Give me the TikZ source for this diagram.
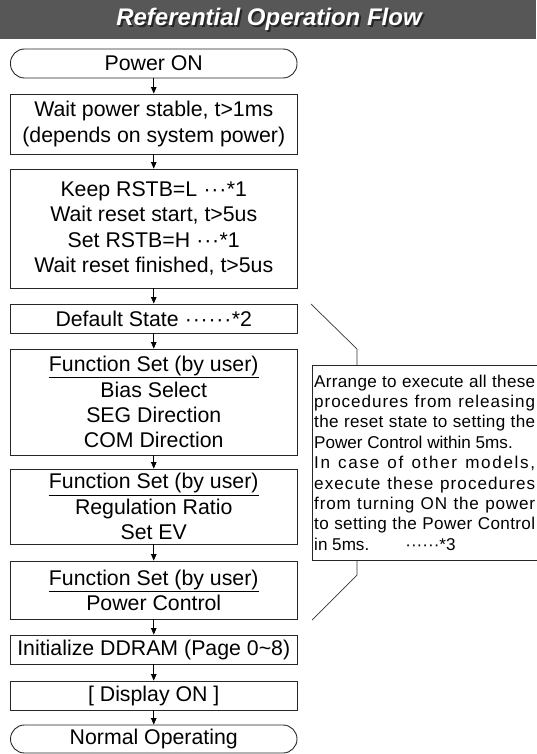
\documentclass[tikz,border=0pt]{standalone}
\usepackage{fontspec}
\setmainfont{Liberation Sans}
\usetikzlibrary{arrows.meta}

% spread the characters of one line evenly over a given width
\ExplSyntaxOn
\cs_new_protected:Npn \flow_spread_line:nn #1#2
  { \hbox_to_wd:nn {#1} { \str_map_inline:nn {#2} { ##1 \hfil } \hfilneg } }
\NewDocumentCommand \spreadline { m m } { \flow_spread_line:nn {#1} {#2} }
\ExplSyntaxOff

\definecolor{bandgray}{RGB}{87,87,87}
\newcommand{\flowfont}{\fontsize{21.3}{25.2}\selectfont}
\newcommand{\md}{\makebox[0.37em]{·}}
% white heading with a dark drop shadow
\newcommand{\shadowed}[1]{\makebox[0pt][l]{\hspace{2pt}\raisebox{-2pt}{\textcolor{black!85}{#1}}}\textcolor{white}{#1}}

\tikzset{
  x=1pt, y=-1pt,
  stepbox/.style={draw=black!85, line width=0.9pt, minimum width=286.5pt,
                  inner sep=0pt, align=center, font=\flowfont},
  termbox/.style={stepbox, rounded corners=14pt},
  flowarrow/.style={-{Triangle[length=6.5pt,width=5.5pt]}, line width=0.8pt, black},
  bracket/.style={line width=0.7pt, black!80},
}

\begin{document}
\begin{tikzpicture}
\useasboundingbox (0,0) rectangle (536,754);

% title band
\fill[bandgray] (0,0) rectangle (536,39.5);
\node[anchor=base, inner sep=0, font=\fontsize{24}{28}\selectfont\bfseries\itshape]
  (title) at (269,26) {\shadowed{Referential Operation Flow}};

% flow steps
\node[termbox, minimum height=29pt] (pon) at (153.75,63.5) {Power ON};
\node[stepbox, minimum height=60pt] (wait) at (153.75,124)
  {Wait power stable, t>1ms\\(depends on system power)};
\node[stepbox, minimum height=119pt] (reset) at (153.75,228.5)
  {Keep RSTB=L \md\md\md*1\\Wait reset start, t>5us\\Set RSTB=H \md\md\md*1\\Wait reset finished, t>5us};
\node[stepbox, minimum height=29pt] (default) at (153.75,318.5)
  {Default State \md\md\md\md\md\md*2};
\node[stepbox, minimum height=106pt] (fs1) at (153.75,402)
  {\underline{Function Set (by user)}\\Bias Select\\SEG Direction\\COM Direction};
\node[stepbox, minimum height=75pt] (fs2) at (153.75,506.5)
  {\underline{Function Set (by user)}\\Regulation Ratio\\Set EV};
\node[stepbox, minimum height=58pt] (fs3) at (153.75,590)
  {\underline{Function Set (by user)}\\Power Control};
\node[stepbox, minimum height=29pt] (ddram) at (153.75,649.5)
  {Initialize DDRAM (Page 0\char"7E 8)};
\node[stepbox, minimum height=29pt] (disp) at (153.75,695.5)
  {[ Display ON ]};
\node[termbox, minimum height=28pt] (normal) at (153.75,739)
  {Normal Operating};

\foreach \a/\b in {pon/wait, wait/reset, reset/default, default/fs1,
                   fs1/fs2, fs2/fs3, fs3/ddram, ddram/disp, disp/normal}
  \draw[flowarrow] (\a.south) -- (\b.north);

% timing note with its bracket
\node[draw=black!85, line width=0.8pt, anchor=north west, minimum width=233pt,
      minimum height=195pt, inner sep=0] (note) at (312,365) {};
\node[anchor=base west, inner sep=0] (notetext) at (314,387) {%
  \vtop{\fontsize{17.1}{20.4}\selectfont\hsize=221pt
    \hbox{\spreadline{221pt}{Arrange to execute all these}}
    \hbox{\spreadline{221pt}{procedures from releasing}}
    \hbox{\spreadline{221pt}{the reset state to setting the}}
    \hbox{Power Control within 5ms.}
    \hbox{\spreadline{221pt}{In case of other models,}}
    \hbox{\spreadline{221pt}{execute these procedures}}
    \hbox{\spreadline{221pt}{from turning ON the power}}
    \hbox{\spreadline{221pt}{to setting the Power Control}}
    \hbox{in 5ms.\hspace{36pt}······*3}}};

\coordinate (toptip) at (311,304);
\coordinate (topknee) at (357,349);
\coordinate (botknee) at (357,575);
\coordinate (bottip) at (312,620);
\draw[bracket] (toptip) -- (topknee) -- (topknee |- note.north);
\draw[bracket] (botknee |- note.south) -- (botknee) -- (bottip);
\end{tikzpicture}
\end{document}
